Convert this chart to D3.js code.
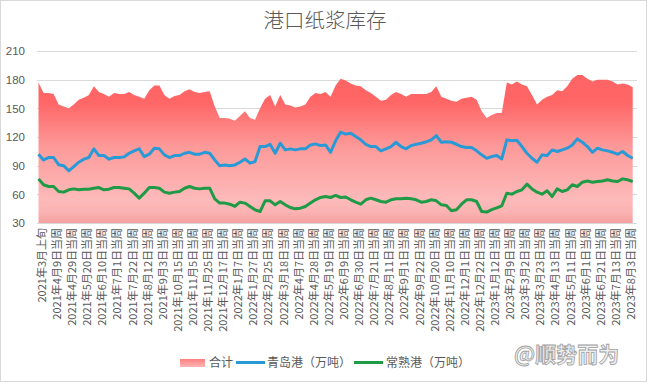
<!DOCTYPE html>
<html>
<head>
<meta charset="utf-8">
<script src="https://cdnjs.cloudflare.com/ajax/libs/d3/7.8.5/d3.min.js"></script>
<style>
  body { margin: 0; background: #fff; }
  svg { display: block; font-family: "Noto Sans CJK SC", "Noto Sans", sans-serif; }
</style>
</head>
<body>
<script>
"use strict";
// weekly port pulp inventory, 10k tonnes
const seriesNames = ["合计", "青岛港（万吨）", "常熟港（万吨）"]

const total = [177, 166, 166, 165, 154, 152, 150, 154, 159, 161, 164, 173, 167, 165, 162, 166, 165, 165, 167, 164,
  162, 160, 169, 174, 174, 164, 160, 163, 164, 168, 170, 167, 166, 167, 168, 152, 140, 140, 139, 137,
  142, 147, 140, 138, 150, 160, 164, 152, 164, 154, 153, 151, 152, 154, 162, 166, 165, 167, 162, 174,
  181, 179, 176, 174, 173, 169, 166, 162, 158, 159, 164, 167, 165, 162, 165, 165, 165, 165, 167, 173,
  162, 160, 158, 157, 160, 161, 162, 159, 147, 140, 143, 145, 145, 177, 175, 178, 175, 173, 164, 154,
  159, 162, 164, 169, 168, 173, 181, 185, 185, 181, 178, 180, 180, 180, 178, 175, 176, 175, 172]

const qingdao = [102, 96, 98.5, 98.5, 91, 90, 84.6, 89, 93.6, 96.8, 98.5, 107.6, 100.6, 100.6, 96.8, 98.5, 98.5, 99.2, 103, 105.5,
  107.6, 99.5, 102, 108.3, 107.6, 101.3, 98.5, 100.6, 100.6, 103, 104, 102, 102, 104, 103, 96, 90, 90.8, 90, 90.8,
  93.6, 97, 92.6, 94.3, 110, 110, 112.4, 103, 113.5, 106.5, 107.6, 106.5, 107.6, 107.6, 111.7, 112.8, 111, 111.7, 104, 116,
  125, 123, 124, 120.5, 117, 112.4, 110, 110, 105.5, 107.6, 110, 114.5, 110, 107.6, 111, 112.4, 113.5, 115, 117, 121.5,
  114.5, 115, 114.5, 112.4, 110, 109, 109, 105.5, 101.3, 97.8, 99.5, 100.6, 97, 117, 116, 116.6, 110, 103, 97.8, 93.6,
  101.3, 100.6, 106.5, 104.8, 106.5, 108.3, 111.7, 118, 114.5, 110, 104, 108.3, 106.5, 105.5, 104, 102, 104.8, 100.6, 97.8]

const changshu = [76.2, 70, 68.2, 68.2, 63, 62.3, 64.7, 65.7, 64.7, 65.4, 65.4, 66.4, 67.1, 64.7, 65.4, 67.1, 67.1, 66.4, 65.7, 61.2,
  56, 61.2, 67.1, 67.1, 66.4, 62.3, 61.2, 62.3, 63, 66.4, 68.2, 66.4, 65.7, 66.4, 66.4, 55.3, 50.8, 50.8, 49.7, 47.3,
  51.8, 50.8, 47.3, 43.8, 42, 53.2, 53.2, 49, 52.5, 49, 46.2, 44.8, 45.5, 47.3, 50.8, 54.3, 56.7, 57.7, 56.7, 58.8,
  56.7, 57.2, 54.3, 51.8, 49.7, 54.3, 56, 54.3, 52.5, 51.8, 54.3, 55.3, 55.3, 56, 55.3, 54.3, 51.8, 52.5, 54.3, 53.2,
  49, 48.3, 42.8, 43.8, 49.7, 54.3, 54.3, 52.5, 42, 41.4, 44, 45.8, 48, 61.2, 60.2, 63, 64.7, 70.6, 65.7, 62.3,
  60.2, 63.7, 57.7, 65.7, 63, 64.7, 70, 68.2, 72.7, 74, 72.7, 73.4, 74, 75.2, 74, 73.4, 76.2, 75.2, 73.4]

// every third week gets a label
const tickLabels = ["2021年3月上旬", "2021年4月9日当周", "2021年4月29日当周", "2021年5月20日当周", "2021年6月10日当周",
  "2021年7月1日当周", "2021年7月22日当周", "2021年8月12日当周", "2021年9月3日当周", "2021年10月15日当周",
  "2021年11月5日当周", "2021年11月25日当周", "2021年12月17日当周", "2022年1月7日当周", "2022年1月27日当周",
  "2022年2月25日当周", "2022年3月18日当周", "2022年4月7日当周", "2022年4月28日当周", "2022年5月19日当周",
  "2022年6月9日当周", "2022年6月30日当周", "2022年7月21日当周", "2022年8月11日当周", "2022年9月1日当周",
  "2022年9月22日当周", "2022年10月20日当周", "2022年11月10日当周", "2022年12月1日当周", "2022年12月22日当周",
  "2023年1月12日当周", "2023年2月9日当周", "2023年3月2日当周", "2023年3月23日当周", "2023年4月13日当周",
  "2023年5月11日当周", "2023年6月1日当周", "2023年6月21日当周", "2023年7月13日当周", "2023年8月3日当周"]

const yTicks = [30, 60, 90, 120, 150, 180, 210]

;(function(){
    const measurements = {
        width: 650,
        height: 383,
        plotLeft: 37,
        plotRight: 637,
        plotTop: 51,
        plotBottom: 223
    }
    const colors = { qingdao: "#2a9ad6", changshu: "#1f9a47", text: "#595959", grid: "#d9d9d9" }

    const svg = d3.select("body").append("svg")
        .attr("width", measurements.width)
        .attr("height", measurements.height)

    // outer frame
    svg.append("rect")
        .attr("x", 0.5).attr("y", 0.5)
        .attr("width", 646).attr("height", 381)
        .attr("fill", "#fff")
        .attr("stroke", "#d9d9d9")

    const idx = d3.range(total.length)
    const scaleX = d3.scalePoint()
        .domain(idx)
        .range([38.5, 632.7])
    const scaleY = d3.scaleLinear()
        .domain([30, 210])
        .range([measurements.plotBottom, measurements.plotTop])

    // gradient for the total area
    const defs = svg.append("defs")
    const grad = defs.append("linearGradient")
        .attr("id", "areaGrad")
        .attr("gradientUnits", "userSpaceOnUse")
        .attr("x1", 0).attr("x2", 0)
        .attr("y1", 72).attr("y2", measurements.plotBottom)
    grad.selectAll("stop")
        .data([[0, "#ff6464"], [0.2, "#ff6666"], [0.5, "#fd9a9a"], [0.85, "#fdbaba"], [0.93, "#fbb2b2"], [1, "#f5a0a0"]])
        .enter().append("stop")
        .attr("offset", d => d[0])
        .attr("stop-color", d => d[1])

    // title
    svg.append("text")
        .attr("x", 325).attr("y", 28)
        .attr("text-anchor", "middle")
        .attr("font-size", 20.5)
        .attr("font-weight", 300)
        .attr("fill", colors.text)
        .text("港口纸浆库存")

    // gridlines
    svg.append("g").selectAll("line")
        .data(yTicks)
        .enter().append("line")
        .attr("x1", measurements.plotLeft).attr("x2", measurements.plotRight)
        .attr("y1", d => Math.round(scaleY(d)) + 0.5)
        .attr("y2", d => Math.round(scaleY(d)) + 0.5)
        .attr("stroke", colors.grid)

    // y axis labels
    const yAxis = d3.axisLeft(scaleY)
        .tickValues(yTicks)
        .tickSize(0)
        .tickPadding(0)
    svg.append("g")
        .attr("transform", "translate(25, 0)")
        .call(yAxis)
        .call(g => g.select(".domain").remove())
        .call(g => g.selectAll("text")
            .attr("fill", colors.text)
            .attr("font-size", 11.5)
            .attr("font-family", "'Liberation Sans Narrow', 'Liberation Sans', sans-serif"))

    // total area
    const area = d3.area()
        .x(i => scaleX(i))
        .y0(scaleY(30))
        .y1(i => scaleY(total[i]))
    svg.append("path")
        .datum(idx)
        .attr("d", area)
        .attr("fill", "url(#areaGrad)")

    // port lines
    const lineFor = (values) => d3.line()
        .x(i => scaleX(i))
        .y(i => scaleY(values[i]))
    svg.append("path")
        .datum(idx)
        .attr("d", lineFor(qingdao))
        .attr("fill", "none")
        .attr("stroke", colors.qingdao)
        .attr("stroke-width", 3)
        .attr("stroke-linejoin", "round")
    svg.append("path")
        .datum(idx)
        .attr("d", lineFor(changshu))
        .attr("fill", "none")
        .attr("stroke", colors.changshu)
        .attr("stroke-width", 3)
        .attr("stroke-linejoin", "round")

    // x axis labels, rotated
    const xAxis = d3.axisBottom(scaleX)
        .tickValues(idx.filter(i => i % 3 === 0))
        .tickFormat(i => tickLabels[i / 3])
        .tickSize(0)
    svg.append("g")
        .attr("transform", "translate(0, " + measurements.plotBottom + ")")
        .call(xAxis)
        .call(g => g.select(".domain").remove())
        .call(g => g.selectAll("text")
            .attr("fill", colors.text)
            .attr("font-size", 11)
            .attr("font-family", "'Noto Sans CJK SC', sans-serif")
            .attr("text-anchor", "end")
            .attr("transform", "rotate(-90)")
            .attr("x", -5)
            .attr("y", 3)
            .attr("dy", "0.35em"))

    // legend
    const legend = svg.append("g").attr("font-size", 12).attr("fill", colors.text)
    const legendGrad = defs.append("linearGradient")
        .attr("id", "legendGrad")
        .attr("x1", 0).attr("x2", 0).attr("y1", 0).attr("y2", 1)
    legendGrad.append("stop").attr("offset", 0).attr("stop-color", "#ff8080")
    legendGrad.append("stop").attr("offset", 1).attr("stop-color", "#fcb4b4")
    legend.append("rect")
        .attr("x", 180).attr("y", 359)
        .attr("width", 25).attr("height", 8)
        .attr("fill", "url(#legendGrad)")
    legend.append("text").attr("x", 209).attr("y", 367).text(seriesNames[0])
    legend.append("line")
        .attr("x1", 236).attr("x2", 265).attr("y1", 362.5).attr("y2", 362.5)
        .attr("stroke", colors.qingdao).attr("stroke-width", 3)
    legend.append("text").attr("x", 267).attr("y", 367).text(seriesNames[1])
    legend.append("line")
        .attr("x1", 354).attr("x2", 383).attr("y1", 362.5).attr("y2", 362.5)
        .attr("stroke", colors.changshu).attr("stroke-width", 3)
    legend.append("text").attr("x", 386).attr("y", 367).text(seriesNames[2])

    // watermark
    svg.append("text")
        .attr("x", 514).attr("y", 362)
        .attr("font-size", 21)
        .attr("font-weight", 700)
        .attr("fill", "#eeeeee")
        .attr("stroke", "#a0a0a0")
        .attr("stroke-width", 0.8)
        .text("@顺势而为")
})()
</script>
</body>
</html>
